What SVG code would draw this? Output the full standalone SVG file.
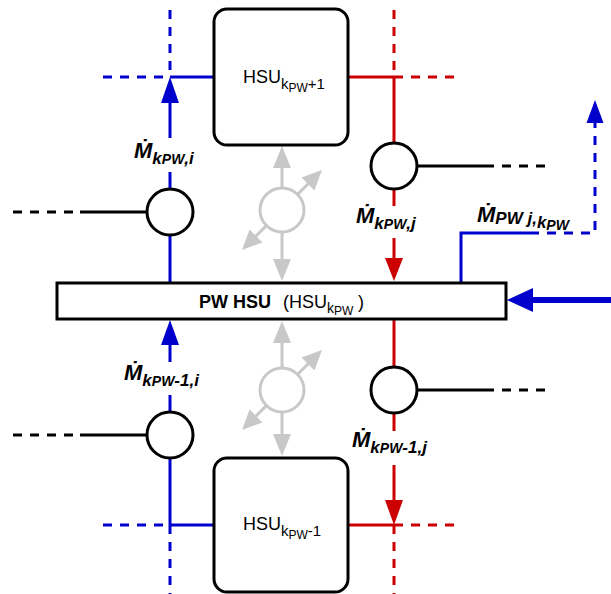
<svg xmlns="http://www.w3.org/2000/svg" width="611" height="594" viewBox="0 0 611 594">
<style>
.blue{stroke:#0000cc;stroke-width:3;fill:none}
.red{stroke:#cc0000;stroke-width:3;fill:none}
.blk{stroke:#000;stroke-width:3;fill:none}
.dash{stroke-dasharray:9,8}
.bfill{fill:#0000cc}
.rfill{fill:#cc0000}
.gray{stroke:#c8c8c8;stroke-width:3;fill:none}
.gfill{fill:#c8c8c8}
.node{fill:#fff;stroke:#000;stroke-width:3}
.valve{fill:#fff;stroke:#000;stroke-width:3}
.lbl{font-family:"Liberation Sans",Arial,sans-serif;font-weight:bold;font-style:italic;fill:#000}
.hsu{font-family:"Liberation Sans",Arial,sans-serif;fill:#000}
</style>
<rect width="611" height="594" fill="#fff"/>

<g id="connectors">
  <!-- top-left blue -->
  <line class="blue dash" x1="170" y1="10" x2="170" y2="77"/>
  <line class="blue dash" x1="103" y1="77" x2="170" y2="77"/>
  <line class="blue" x1="170" y1="77" x2="214" y2="77"/>
  <line class="blue" x1="170" y1="100" x2="170" y2="138"/>
  <line class="blue" x1="170" y1="172" x2="170" y2="189"/>
  <line class="blue" x1="170" y1="235" x2="170" y2="283"/>
  <polygon class="bfill" points="170,77 161,103 179,103"/>
  <line class="blk" x1="80" y1="212" x2="147" y2="212"/>
  <line class="blk dash" x1="13" y1="212" x2="80" y2="212"/>

  <!-- top-right red -->
  <line class="red dash" x1="394" y1="10" x2="394" y2="77"/>
  <line class="red" x1="348" y1="77" x2="394" y2="77"/>
  <line class="red dash" x1="394" y1="77" x2="461" y2="77"/>
  <line class="red" x1="394" y1="77" x2="394" y2="143"/>
  <line class="red" x1="394" y1="189" x2="394" y2="206"/>
  <line class="red" x1="394" y1="238" x2="394" y2="260"/>
  <polygon class="rfill" points="394,281 385,258 403,258"/>
  <line class="blk" x1="417" y1="166" x2="485" y2="166"/>
  <line class="blk dash" x1="485" y1="166" x2="552" y2="166"/>

  <!-- PW blue outlet -->
  <polyline class="blue" points="461,283 461,233 530,233"/>
  <polyline class="blue dash" points="530,233 595,233 595,121"/>
  <polygon class="bfill" points="595,100 586.5,123 603.5,123"/>

  <!-- main inflow arrow -->
  <line stroke="#0000cc" stroke-width="6" x1="530" y1="300" x2="611" y2="300"/>
  <polygon class="bfill" points="507,300 533,288 533,312"/>

  <!-- bottom-left blue -->
  <polygon class="bfill" points="170,320 161,345 179,345"/>
  <line class="blue" x1="170" y1="343" x2="170" y2="362"/>
  <line class="blue" x1="170" y1="395" x2="170" y2="412"/>
  <line class="blue" x1="170" y1="458" x2="170" y2="525"/>
  <line class="blue" x1="170" y1="525" x2="214" y2="525"/>
  <line class="blue dash" x1="103" y1="525" x2="170" y2="525"/>
  <line class="blue dash" x1="170" y1="525" x2="170" y2="594"/>
  <line class="blk" x1="80" y1="435" x2="147" y2="435"/>
  <line class="blk dash" x1="13" y1="435" x2="80" y2="435"/>

  <!-- bottom-right red -->
  <line class="red" x1="394" y1="319" x2="394" y2="367"/>
  <line class="red" x1="394" y1="413" x2="394" y2="431"/>
  <line class="red" x1="394" y1="465" x2="394" y2="502"/>
  <polygon class="rfill" points="394,525 385,500 403,500"/>
  <line class="red" x1="348" y1="525" x2="394" y2="525"/>
  <line class="red dash" x1="394" y1="525" x2="461" y2="525"/>
  <line class="red dash" x1="394" y1="525" x2="394" y2="594"/>
  <line class="blk" x1="417" y1="390" x2="485" y2="390"/>
  <line class="blk dash" x1="485" y1="390" x2="552" y2="390"/>

  <!-- gray symbol top -->
  <g id="gray-top">
    <circle class="gray" cx="282" cy="210" r="22"/>
    <line class="gray" x1="282" y1="188" x2="282" y2="166"/>
    <polygon class="gfill" points="282,146 273,168 291,168"/>
    <line class="gray" x1="282" y1="232" x2="282" y2="261"/>
    <polygon class="gfill" points="282,281 273,259 291,259"/>
    <line class="gray" x1="297.6" y1="194.4" x2="309" y2="183"/>
    <polygon class="gfill" points="322,170 314.4,190.4 301.6,177.6"/>
    <line class="gray" x1="266.4" y1="225.6" x2="255" y2="237"/>
    <polygon class="gfill" points="242,250 262.4,242.4 249.6,229.6"/>
  </g>
  <!-- gray symbol bottom -->
  <g id="gray-bottom">
    <circle class="gray" cx="282" cy="390" r="22"/>
    <line class="gray" x1="282" y1="368" x2="282" y2="341"/>
    <polygon class="gfill" points="282,321 273,343 291,343"/>
    <line class="gray" x1="282" y1="412" x2="282" y2="436"/>
    <polygon class="gfill" points="282,456 273,434 291,434"/>
    <line class="gray" x1="297.6" y1="374.4" x2="309" y2="363"/>
    <polygon class="gfill" points="322,350 314.4,370.4 301.6,357.6"/>
    <line class="gray" x1="266.4" y1="405.6" x2="255" y2="417"/>
    <polygon class="gfill" points="242,430 262.4,422.4 249.6,409.6"/>
  </g>
</g>

<g id="valve-top-left"><circle class="valve" cx="170" cy="212" r="23"/></g>
<g id="valve-top-right"><circle class="valve" cx="394" cy="166" r="23"/></g>
<g id="valve-bottom-left"><circle class="valve" cx="170" cy="435" r="23"/></g>
<g id="valve-bottom-right"><circle class="valve" cx="394" cy="390" r="23"/></g>

<g id="hsu-top">
  <rect class="node" x="214" y="9" width="134" height="136" rx="13"/>
  <text class="hsu" x="243" y="83" font-size="18">HSU<tspan font-size="15" y="89">k</tspan><tspan font-size="12" y="92">PW</tspan><tspan font-size="15" y="89">+1</tspan></text>
</g>

<g id="pw-hsu">
  <rect class="node" x="57" y="283" width="449" height="36"/>
  <text class="hsu" x="199" y="308" font-size="18" font-weight="bold">PW HSU</text>
  <text class="hsu" x="283" y="308" font-size="18">(HSU<tspan x="327" font-size="14" y="313">k</tspan><tspan font-size="12" y="315">PW</tspan><tspan x="358" font-size="18" y="308">)</tspan></text>
</g>

<g id="hsu-bottom">
  <rect class="node" x="214" y="458" width="134" height="134" rx="13"/>
  <text class="hsu" x="243" y="530" font-size="18">HSU<tspan font-size="15" y="536">k</tspan><tspan font-size="12" y="539">PW</tspan><tspan font-size="15" y="536">-1</tspan></text>
</g>

<g id="labels">
  <text class="lbl" x="134" y="158" font-size="22">Ṁ<tspan font-size="17" y="164">k</tspan><tspan font-size="14" y="164">PW</tspan><tspan font-size="17" y="164">,i</tspan></text>
  <text class="lbl" x="356" y="223" font-size="22">Ṁ<tspan font-size="17" y="229">k</tspan><tspan font-size="14" y="229">PW</tspan><tspan font-size="17" y="229">,j</tspan></text>
  <text class="lbl" x="124" y="380" font-size="22">Ṁ<tspan font-size="17" y="386">k</tspan><tspan font-size="14" y="386">PW</tspan><tspan font-size="17" y="386">-1,i</tspan></text>
  <text class="lbl" x="352" y="447" font-size="22">Ṁ<tspan font-size="17" y="453">k</tspan><tspan font-size="14" y="453">PW</tspan><tspan font-size="17" y="453">-1,j</tspan></text>
  <text class="lbl" x="477" y="222" font-size="22">Ṁ<tspan font-size="17" y="224">PW j,</tspan><tspan font-size="17" y="228">k</tspan><tspan font-size="14" y="230">PW</tspan></text>
</g>
</svg>
